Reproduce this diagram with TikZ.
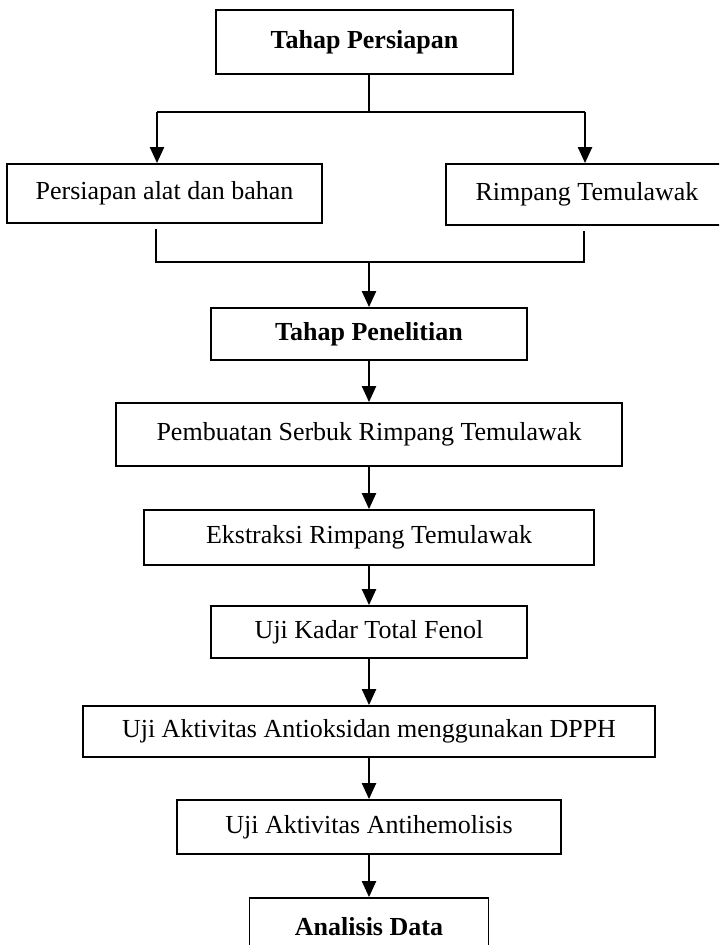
\documentclass[tikz,border=0pt]{standalone}
\usepackage{fontspec}
\setmainfont{Liberation Serif}
\usetikzlibrary{arrows.meta}

\begin{document}
\begin{tikzpicture}[
        x=0.5pt, y=-0.5pt,
        box/.style={draw, line width=0.9pt, rectangle, text centered, inner sep=0pt, font=\fontsize{13}{15}\selectfont},
        boldbox/.style={box, font=\fontsize{13}{15}\selectfont\bfseries},
        ar/.style={-{Triangle[length=8pt, width=7pt]}, line width=1.1pt},
        ln/.style={line width=0.9pt},
    ]
    \useasboundingbox (0,0) rectangle (719,945);
    \clip (0,0) rectangle (719,945);

    \node[boldbox, minimum width=148.5pt, minimum height=32pt](persiapan) at (364.5,42) {Tahap Persiapan};
    \node[box, minimum width=157.5pt, minimum height=29.5pt](alat) at (164.5,193.5) {Persiapan alat dan bahan};
    \node[box, minimum width=141pt, minimum height=30.5pt](rimpang) at (587,194.5) {Rimpang Temulawak};
    \node[boldbox, minimum width=158pt, minimum height=26pt](penelitian) at (369,334) {Tahap Penelitian};
    \node[box, minimum width=253pt, minimum height=31.5pt](serbuk) at (369,434.5) {Pembuatan Serbuk Rimpang Temulawak};
    \node[box, minimum width=225pt, minimum height=27.5pt](ekstraksi) at (369,537.5) {Ekstraksi Rimpang Temulawak};
    \node[box, minimum width=158pt, minimum height=26pt](fenol) at (369,632) {Uji Kadar Total Fenol};
    \node[box, minimum width=286pt, minimum height=25.5pt](dpph) at (369,731.5) {Uji Aktivitas Antioksidan menggunakan DPPH};
    \node[box, minimum width=192pt, minimum height=27pt](hemolisis) at (369,827) {Uji Aktivitas Antihemolisis};
    \node[boldbox, minimum width=119.5pt, minimum height=29pt](analisis) at (369,927) {Analisis Data};

    \coordinate (split) at (369,112);
    \coordinate (splitL) at (157,112);
    \coordinate (splitR) at (585,112);
    \coordinate (joinL) at (156,262);
    \coordinate (joinR) at (584,262);
    \coordinate (join) at (369,262);

    % split to the two preparation boxes
    \draw[ln] (persiapan.south -| split) -- (split);
    \draw[ln] (splitL) -- (splitR);
    \path[ar]
    (splitL) edge (splitL |- alat.north)
    (splitR) edge (splitR |- rimpang.north)
    ;

    % join back into one line
    \draw[ln, shorten <=2.5pt, shorten >=2.5pt] (alat.south -| joinL) -- (joinL) -- (joinR) -- (rimpang.south -| joinR);

    \path[ar]
    (join) edge (penelitian.north)
    (penelitian) edge (serbuk)
    (serbuk) edge (ekstraksi)
    (ekstraksi) edge (fenol)
    (fenol) edge (dpph)
    (dpph) edge (hemolisis)
    (hemolisis) edge (analisis)
    ;
\end{tikzpicture}
\end{document}
